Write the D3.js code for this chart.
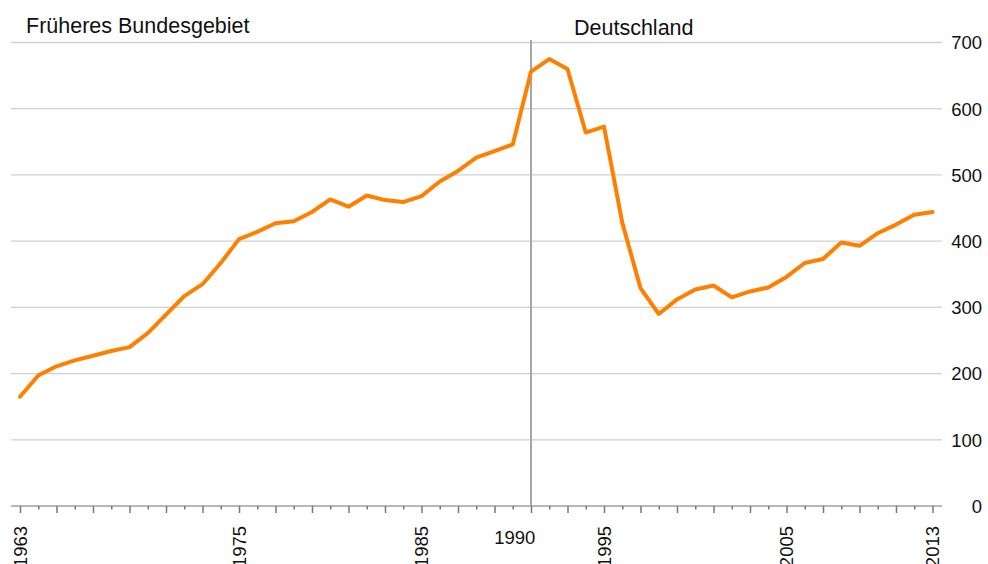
<!DOCTYPE html>
<html>
<head>
<meta charset="utf-8">
<script src="https://cdn.jsdelivr.net/npm/d3@7/dist/d3.min.js"></script>
<style>
  html, body { margin: 0; padding: 0; background: #ffffff; }
  svg { display: block; font-family: "Liberation Sans", Arial, sans-serif; }
</style>
</head>
<body>
<svg id="chart" width="988" height="564"></svg>
<script>
const years = d3.range(1963, 2014);
const values = [
  165, 197, 211, 220, 227, 234, 240, 261, 289, 317,
  335, 367, 403, 414, 427, 430, 444, 463, 452, 469,
  462, 459, 468, 490, 506, 526, 536, 546, 656, 675,
  660, 564, 573, 428, 329, 290, 312, 327, 333, 315,
  324, 330, 346, 367, 373, 398, 393, 412, 425, 440,
  444
];
const rotatedLabels = [1963, 1975, 1985, 1995, 2005, 2013];
const horizontalLabels = [1990];
const yTicks = [0, 100, 200, 300, 400, 500, 600, 700];
const regionLabels = ["Früheres Bundesgebiet", "Deutschland"];
const dividerYear = 1991;

const svg = d3.select("#chart");
const x = d3.scaleLinear().domain([1963, 2013]).range([20, 932.5]);
const y = d3.scaleLinear().domain([0, 700]).range([506, 42.5]);
const left = 11, right = 942;

// gridlines
svg.append("g").selectAll("line").data(yTicks.filter(d => d > 0)).join("line")
  .attr("x1", left).attr("x2", right)
  .attr("y1", d => y(d)).attr("y2", d => y(d))
  .attr("stroke", "#d0d0d0").attr("stroke-width", 1.3);

// y labels on right
svg.append("g").selectAll("text").data(yTicks).join("text")
  .attr("x", 982).attr("y", d => y(d) + 6.8)
  .attr("text-anchor", "end")
  .attr("font-size", 18.5).attr("fill", "#111")
  .text(d => d);

// x axis line + ticks
const oddYears = years.filter(d => d % 2 === 1);
const evenYears = years.filter(d => d % 2 === 0);
const axisG = svg.append("g").attr("transform", `translate(0,${y(0)})`);
axisG.append("line").attr("x1", left).attr("x2", right).attr("y1", 0).attr("y2", 0)
  .attr("stroke", "#a0a0a0").attr("stroke-width", 1.6);
axisG.append("g").call(d3.axisBottom(x).tickValues(oddYears).tickSize(7).tickFormat(""))
  .call(g => g.select(".domain").remove())
  .call(g => g.selectAll("line").attr("stroke", "#777").attr("stroke-width", 1.5));
axisG.append("g").call(d3.axisBottom(x).tickValues(evenYears).tickSize(3.5).tickFormat(""))
  .call(g => g.select(".domain").remove())
  .call(g => g.selectAll("line").attr("stroke", "#777").attr("stroke-width", 1.5));

// rotated labels
svg.append("g").selectAll("text").data(rotatedLabels).join("text")
  .attr("transform", d => `translate(${x(d) + 6.5},526) rotate(-90)`)
  .attr("text-anchor", "end")
  .attr("font-size", 18.5).attr("fill", "#111")
  .text(d => d);
svg.append("g").selectAll("text").data(horizontalLabels).join("text")
  .attr("x", d => x(d) + 2).attr("y", 543.5)
  .attr("text-anchor", "middle")
  .attr("font-size", 18.5).attr("fill", "#111")
  .text(d => d);

// divider line
svg.append("line")
  .attr("x1", x(dividerYear)).attr("x2", x(dividerYear))
  .attr("y1", 40).attr("y2", y(0))
  .attr("stroke", "#a6a6a6").attr("stroke-width", 2);

// region labels
svg.append("text").attr("x", 26).attr("y", 33).attr("font-size", 21.5).attr("fill", "#111")
  .text(regionLabels[0]);
svg.append("text").attr("x", 574).attr("y", 35).attr("font-size", 21.5).attr("fill", "#111")
  .text(regionLabels[1]);

// data line
const line = d3.line().x((d, i) => x(years[i])).y(d => y(d));
svg.append("path").datum(values)
  .attr("d", line)
  .attr("fill", "none")
  .attr("stroke", "#ff8000")
  .attr("stroke-width", 4)
  .attr("stroke-linejoin", "round")
  .attr("stroke-linecap", "round");
</script>
</body>
</html>
